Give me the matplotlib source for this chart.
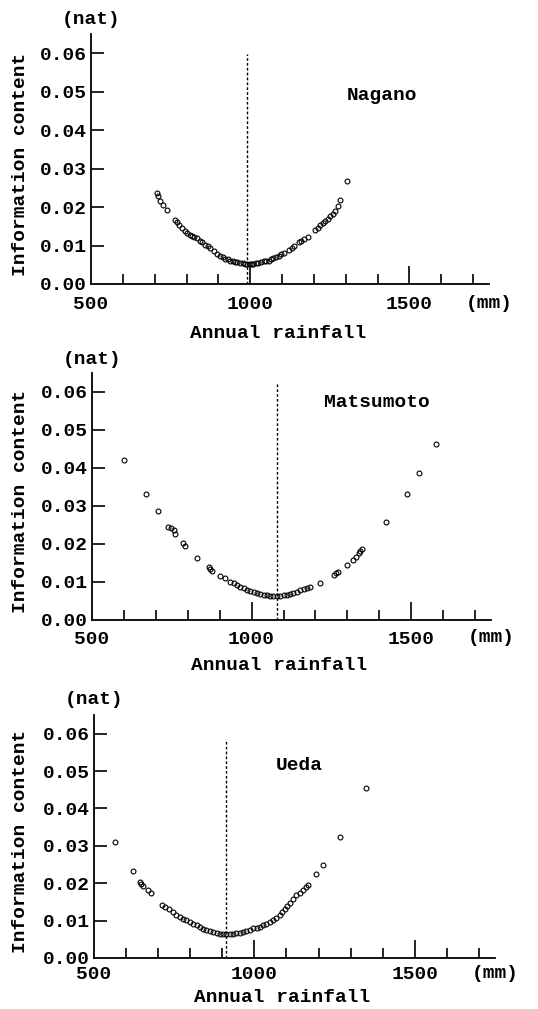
import matplotlib
matplotlib.use("Agg")
import matplotlib.pyplot as plt
from matplotlib.ticker import MultipleLocator, NullFormatter

# ---------------- data ----------------
stations = ["Nagano", "Matsumoto", "Ueda"]

nagano_rain = [706, 711, 718, 727, 738, 764, 770, 775, 785, 795, 801, 810, 817, 825, 832, 843,
               850, 858, 866, 874, 885, 895, 906, 914, 921, 929, 936, 945, 953, 960, 968, 976,
               983, 991, 1000, 1005, 1010, 1018, 1026, 1034, 1042, 1050, 1058, 1066, 1073, 1081,
               1089, 1097, 1105, 1121, 1130, 1136, 1152, 1160, 1168, 1183, 1204, 1212, 1220,
               1228, 1235, 1243, 1251, 1259, 1267, 1277, 1283, 1304]
nagano_info = [0.0236, 0.0228, 0.0216, 0.0206, 0.0193, 0.0167, 0.0160, 0.0154, 0.0145, 0.0137,
               0.0132, 0.0128, 0.0126, 0.0122, 0.0119, 0.0113, 0.0108, 0.0102, 0.0098, 0.0094,
               0.0085, 0.0078, 0.0072, 0.0069, 0.0066, 0.0064, 0.0061, 0.0059, 0.0057, 0.0056,
               0.0055, 0.0054, 0.0053, 0.0053, 0.0053, 0.0053, 0.0053, 0.0054, 0.0055, 0.0057,
               0.0059, 0.0060, 0.0061, 0.0064, 0.0068, 0.0071, 0.0074, 0.0077, 0.0081, 0.0089,
               0.0094, 0.0098, 0.0108, 0.0113, 0.0117, 0.0122, 0.0141, 0.0146, 0.0154, 0.0158,
               0.0163, 0.0170, 0.0176, 0.0182, 0.0189, 0.0202, 0.0219, 0.0267]

matsumoto_rain = [601, 668, 706, 738, 748, 756, 761, 785, 790, 829, 865, 870, 876, 900, 918, 933,
                  944, 954, 965, 975, 986, 996, 1006, 1017, 1027, 1038, 1048, 1058, 1068, 1079,
                  1090, 1100, 1110, 1121, 1131, 1142, 1152, 1163, 1174, 1184, 1215, 1257, 1265,
                  1272, 1299, 1319, 1327, 1335, 1341, 1346, 1422, 1486, 1526, 1577]
matsumoto_info = [0.0422, 0.0331, 0.0286, 0.0246, 0.0242, 0.0237, 0.0227, 0.0202, 0.0195, 0.0164,
                  0.0139, 0.0135, 0.0130, 0.0116, 0.0110, 0.0101, 0.0097, 0.0092, 0.0087, 0.0083,
                  0.0080, 0.0077, 0.0073, 0.0070, 0.0068, 0.0066, 0.0065, 0.0064, 0.0064, 0.0064,
                  0.0064, 0.0066, 0.0067, 0.0069, 0.0072, 0.0075, 0.0078, 0.0081, 0.0084, 0.0086,
                  0.0098, 0.0119, 0.0123, 0.0127, 0.0145, 0.0158, 0.0167, 0.0176, 0.0181, 0.0186,
                  0.0259, 0.0332, 0.0387, 0.0463]

ueda_rain = [564, 622, 642, 648, 653, 668, 679, 713, 720, 733, 746, 757, 767, 778, 788, 799, 809,
             820, 830, 840, 850, 861, 871, 882, 892, 903, 913, 923, 933, 944, 954, 965, 975, 986,
             996, 1007, 1017, 1027, 1037, 1048, 1058, 1068, 1079, 1087, 1095, 1103, 1110, 1120,
             1131, 1141, 1152, 1160, 1167, 1193, 1214, 1268, 1349]
ueda_info = [0.0311, 0.0233, 0.0204, 0.0198, 0.0193, 0.0182, 0.0173, 0.0143, 0.0137, 0.0130,
             0.0123, 0.0116, 0.0110, 0.0105, 0.0101, 0.0096, 0.0092, 0.0087, 0.0083, 0.0078,
             0.0074, 0.0072, 0.0070, 0.0067, 0.0065, 0.0064, 0.0063, 0.0063, 0.0064, 0.0066,
             0.0068, 0.0070, 0.0072, 0.0076, 0.0079, 0.0081, 0.0083, 0.0088, 0.0092, 0.0097,
             0.0101, 0.0108, 0.0116, 0.0124, 0.0131, 0.0139, 0.0146, 0.0157, 0.0168, 0.0175,
             0.0182, 0.0189, 0.0195, 0.0226, 0.0250, 0.0325, 0.0456]

optimum_rain = [990, 1080, 910]          # dashed vertical line (mm)
optimum_top = [0.0597, 0.0625, 0.0585]   # top of dashed line

xtick_values = [500, 1000, 1500]
xtick_labels = ["500", "1000", "1500"]
ytick_values = [0.00, 0.01, 0.02, 0.03, 0.04, 0.05, 0.06]
ytick_labels = ["0.00", "0.01", "0.02", "0.03", "0.04", "0.05", "0.06"]

rains = [nagano_rain, matsumoto_rain, ueda_rain]
infos = [nagano_info, matsumoto_info, ueda_info]

# ---------------- figure ----------------
W, H = 538, 1009
DPI = 100
fig = plt.figure(figsize=(W / DPI, H / DPI), dpi=DPI)
fig.patch.set_facecolor("white")

FONT = "Liberation Mono"
FS = 14
TXT = dict(fontfamily=FONT, fontsize=FS, fontweight="bold")

# axes boxes in pixels: left, top, right, bottom
boxes = [(91, 34, 489, 284),
         (92, 373, 491, 620),
         (94, 715, 495, 958)]
name_pos = [(0.731, 0.752), (0.714, 0.879), (0.511, 0.794)]   # axes fraction
xlabel_below = [49, 46, 39]     # px from axis line to label centre
ticklab_below = [19, 18, 15]    # px from axis line to tick-label centre
nat_above = [14, 13, 15]        # px from axes top to "(nat)" centre

for i, (l, t, r, b) in enumerate(boxes):
    wpx, hpx = r - l, b - t
    ax = fig.add_axes([l / W, 1 - b / H, wpx / W, hpx / H])
    ax.set_xlim(500, 1750)
    ax.set_ylim(0.0, 0.065)
    for s in ("top", "right"):
        ax.spines[s].set_visible(False)
    for s in ("left", "bottom"):
        ax.spines[s].set_linewidth(1.3)

    ax.plot(rains[i], infos[i], linestyle="none", marker="o", markersize=3.5,
            markerfacecolor="none", markeredgecolor="black", markeredgewidth=0.8,
            zorder=3)
    ax.plot([optimum_rain[i], optimum_rain[i]], [0.0, optimum_top[i]],
            color="black", linewidth=1.0, linestyle=(0, (2.0, 1.5)), zorder=2)

    # x ticks
    ax.set_xticks(xtick_values)
    ax.set_xticklabels(xtick_labels, **TXT)
    ax.xaxis.set_minor_locator(MultipleLocator(100))
    ax.xaxis.set_minor_formatter(NullFormatter())
    pad_pt = (ticklab_below[i] - 7) * 72 / DPI
    ax.tick_params(axis="x", which="major", direction="in", length=13, width=1.2, pad=pad_pt)
    ax.tick_params(axis="x", which="minor", direction="in", length=7.5, width=1.2)
    ax.xaxis.get_major_ticks()[0].tick1line.set_visible(False)

    # y ticks
    ax.set_yticks(ytick_values)
    ax.set_yticklabels(ytick_labels, **TXT)
    ax.tick_params(axis="y", which="major", direction="in", length=9.5, width=1.2, pad=3)
    ax.yaxis.get_major_ticks()[0].tick1line.set_visible(False)

    ax.set_ylabel("Information content", **TXT)
    ax.yaxis.label.set_va("center")
    ax.yaxis.set_label_coords(-(l - 21) / wpx, 0.48)
    ax.set_xlabel("Annual rainfall", **TXT)
    ax.xaxis.label.set_va("center")
    ax.xaxis.set_label_coords((278 - 91) / 398, -xlabel_below[i] / hpx)

    ax.text(0.0, 1 + nat_above[i] / hpx, "(nat)", transform=ax.transAxes,
            ha="center", va="center", **TXT)
    ax.text(1.0, -ticklab_below[i] / hpx, "(mm)", transform=ax.transAxes,
            ha="center", va="center", **TXT)
    ax.text(name_pos[i][0], name_pos[i][1], stations[i], transform=ax.transAxes,
            ha="center", va="center", **TXT)

fig.savefig("out.png", dpi=DPI, facecolor="white")
